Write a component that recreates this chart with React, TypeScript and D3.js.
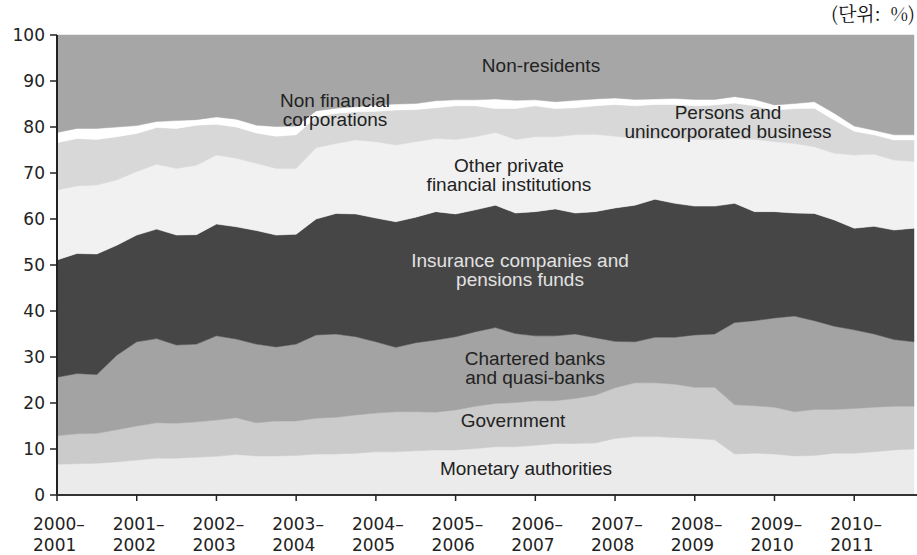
import React from 'react';
import * as d3 from 'd3';

// Quarterly shares (%) of holders, 2000–2001 Q1 through 2010–2011 end
const monetary = [6.7,6.8,6.9,7.2,7.6,8.0,8.0,8.2,8.4,8.8,8.5,8.5,8.6,8.9,8.9,9.1,9.4,9.4,9.6,9.8,9.8,10.1,10.5,10.5,10.8,11.2,11.2,11.3,12.3,12.7,12.7,12.5,12.3,12.0,8.9,9.1,8.9,8.5,8.6,9.1,9.1,9.4,9.8,10.0];
const government = [6.2,6.5,6.5,7.0,7.4,7.7,7.6,7.7,7.9,8.0,7.2,7.6,7.5,7.8,8.0,8.3,8.4,8.7,8.5,8.2,8.7,9.2,9.4,9.6,9.7,9.3,9.8,10.4,11.0,11.7,11.7,11.6,11.1,11.4,10.7,10.3,10.2,9.6,10.0,9.5,9.7,9.7,9.5,9.3];
const chartered = [12.7,13.1,12.8,16.2,18.3,18.3,17.0,16.9,18.3,17.1,17.1,16.1,16.7,18.1,18.1,17.0,15.5,14.0,15.0,15.7,15.9,16.2,16.5,15.0,14.1,14.1,14.0,12.5,10.1,8.9,9.9,10.2,11.4,11.6,17.9,18.5,19.4,20.8,19.3,18.1,17.1,15.9,14.5,14.0];
const insurance = [25.5,26.1,26.2,23.9,23.2,23.8,23.9,23.8,24.3,24.4,24.7,24.3,23.9,25.2,26.2,26.7,26.9,27.3,27.3,27.9,26.7,26.5,26.6,26.2,27.0,27.6,26.3,27.4,29.0,29.7,30.0,29.1,28.0,27.8,25.9,23.7,23.1,22.4,23.3,23.1,22.1,23.4,23.8,24.7];
const otherPrivate = [15.2,14.7,15.0,14.2,13.8,14.1,14.5,15.1,15.0,14.9,14.6,14.5,14.3,15.5,15.2,16.1,16.6,16.7,16.4,15.9,16.2,15.9,15.8,16.0,16.3,15.7,17.0,16.8,15.6,14.5,13.2,14.1,14.5,14.5,14.1,15.7,15.2,15.1,14.5,14.5,15.9,15.7,15.2,14.5];
const persons = [10.3,10.3,9.9,9.4,8.3,8.0,8.7,8.7,6.7,6.8,6.6,7.0,7.3,6.7,6.6,6.1,6.6,7.6,7.0,6.7,7.3,6.7,5.2,6.7,6.7,6.1,5.9,6.2,6.9,7.1,7.4,7.4,7.3,7.5,7.7,7.3,6.9,7.6,8.4,7.2,5.2,4.2,4.4,4.7];
const nonFinancial = [2.2,2.2,2.4,2.1,1.7,1.3,1.7,1.2,1.6,1.7,1.7,2.1,1.9,1.3,1.1,1.1,1.4,1.3,1.3,1.5,1.3,1.3,2.1,1.8,1.3,1.5,1.6,1.5,1.4,1.4,1.2,1.3,1.4,1.2,1.4,1.4,1.1,1.1,1.4,1.5,1.1,1.0,1.1,1.1];
const nonResidents = [21.2,20.3,20.3,20.0,19.7,18.8,18.6,18.4,17.8,18.3,19.6,19.9,19.8,16.5,15.9,15.6,15.2,15.0,14.9,14.3,14.1,14.1,13.9,14.2,14.1,14.5,14.2,13.9,13.7,14.0,13.9,13.8,14.0,14.0,13.4,14.0,15.2,14.9,14.5,17.0,19.8,20.7,21.7,21.7];

const fiscalYears = [
  ['2000–', '2001'], ['2001–', '2002'], ['2002–', '2003'], ['2003–', '2004'],
  ['2004–', '2005'], ['2005–', '2006'], ['2006–', '2007'], ['2007–', '2008'],
  ['2008–', '2009'], ['2009–', '2010'], ['2010–', '2011'],
];
const yTicks = [0, 10, 20, 30, 40, 50, 60, 70, 80, 90, 100];

const seriesKeys = ['monetary', 'government', 'chartered', 'insurance', 'otherPrivate', 'persons', 'nonFinancial', 'nonResidents'];
const seriesValues: Record<string, number[]> = { monetary, government, chartered, insurance, otherPrivate, persons, nonFinancial, nonResidents };
const seriesColors: Record<string, string> = {
  monetary: '#ebebeb',
  government: '#cbcbcb',
  chartered: '#a3a3a3',
  insurance: '#464646',
  otherPrivate: '#f1f1f1',
  persons: '#d8d8d8',
  nonFinancial: '#ffffff',
  nonResidents: '#a6a6a6',
};

// annotation labels: [lines, center x in px, first baseline y in px, color]
const annotations: { lines: string[]; x: number; y: number; color: string }[] = [
  { lines: ['Non-residents'], x: 541, y: 72, color: '#222' },
  { lines: ['Non financial', 'corporations'], x: 335, y: 107, color: '#222' },
  { lines: ['Persons and', 'unincorporated business'], x: 728, y: 119, color: '#222' },
  { lines: ['Other private', 'financial institutions'], x: 509, y: 172, color: '#222' },
  { lines: ['Insurance companies and', 'pensions funds'], x: 520, y: 267, color: '#e2e2e2' },
  { lines: ['Chartered banks', 'and quasi-banks'], x: 535, y: 365, color: '#222' },
  { lines: ['Government'], x: 513, y: 427, color: '#222' },
  { lines: ['Monetary authorities'], x: 526, y: 475, color: '#222' },
];

export default function App() {
  const W = 917, H = 555;
  const x = d3.scaleLinear().domain([0, monetary.length - 1]).range([57, 914]);
  const y = d3.scaleLinear().domain([0, 100]).range([495, 35]);

  const table = monetary.map((_, i) => {
    const row: any = { q: i };
    seriesKeys.forEach(k => { row[k] = seriesValues[k][i]; });
    return row;
  });
  const stacked = d3.stack<any>().keys(seriesKeys)(table);
  const area = d3.area<any>()
    .x(d => x(d.data.q))
    .y0(d => y(d[0]))
    .y1(d => y(d[1]))
    .curve(d3.curveLinear);

  const font = '"Liberation Sans", Arial, Helvetica, sans-serif';
  const tickFont = '"DejaVu Sans", "Liberation Sans", Arial, sans-serif';

  return (
    <svg width={W} height={H} style={{ position: 'absolute', left: 0, top: 0, background: '#fff' }}>
      <text x={915} y={21} textAnchor="end" fontSize={19}
        fontFamily='"Noto Serif CJK KR", "Liberation Serif", serif' fill="#111" style={{ whiteSpace: 'pre' }}>(단위:  %)</text>
      <g>
        {stacked.map(s => (
          <path key={s.key} d={area(s) || ''} fill={seriesColors[s.key]} stroke={seriesColors[s.key]} strokeWidth={0.5} />
        ))}
      </g>
      {annotations.map((a, i) => (
        <text key={i} x={a.x} y={a.y} textAnchor="middle" fontSize={19} fontFamily={font} fill={a.color}>
          {a.lines.map((l, j) => (
            <tspan key={j} x={a.x} dy={j === 0 ? 0 : 19}>{l}</tspan>
          ))}
        </text>
      ))}
      {/* y axis */}
      <line x1={57} x2={57} y1={y(100)} y2={y(0)} stroke="#222" strokeWidth={2} />
      {yTicks.map(t => (
        <g key={t}>
          <line x1={50} x2={57} y1={y(t)} y2={y(t)} stroke="#222" strokeWidth={1.5} />
          <text x={45} y={y(t)} dy="0.36em" textAnchor="end" fontSize={17} fontFamily={tickFont} fill="#222">{t}</text>
        </g>
      ))}
      {/* x axis */}
      <line x1={56} x2={917} y1={y(0)} y2={y(0)} stroke="#333" strokeWidth={2} />
      {fiscalYears.map((fy, k) => {
        const tx = x(k * 4);
        return (
          <g key={k}>
            <line x1={tx} x2={tx} y1={y(0)} y2={y(0) + 6} stroke="#222" strokeWidth={1.5} />
            <text x={tx - 24} y={530} fontSize={17} fontFamily={tickFont} fill="#222">
              <tspan x={tx - 24} dy={0}>{fy[0]}</tspan>
              <tspan x={tx - 24} dy={20.5}>{fy[1]}</tspan>
            </text>
          </g>
        );
      })}
    </svg>
  );
}
